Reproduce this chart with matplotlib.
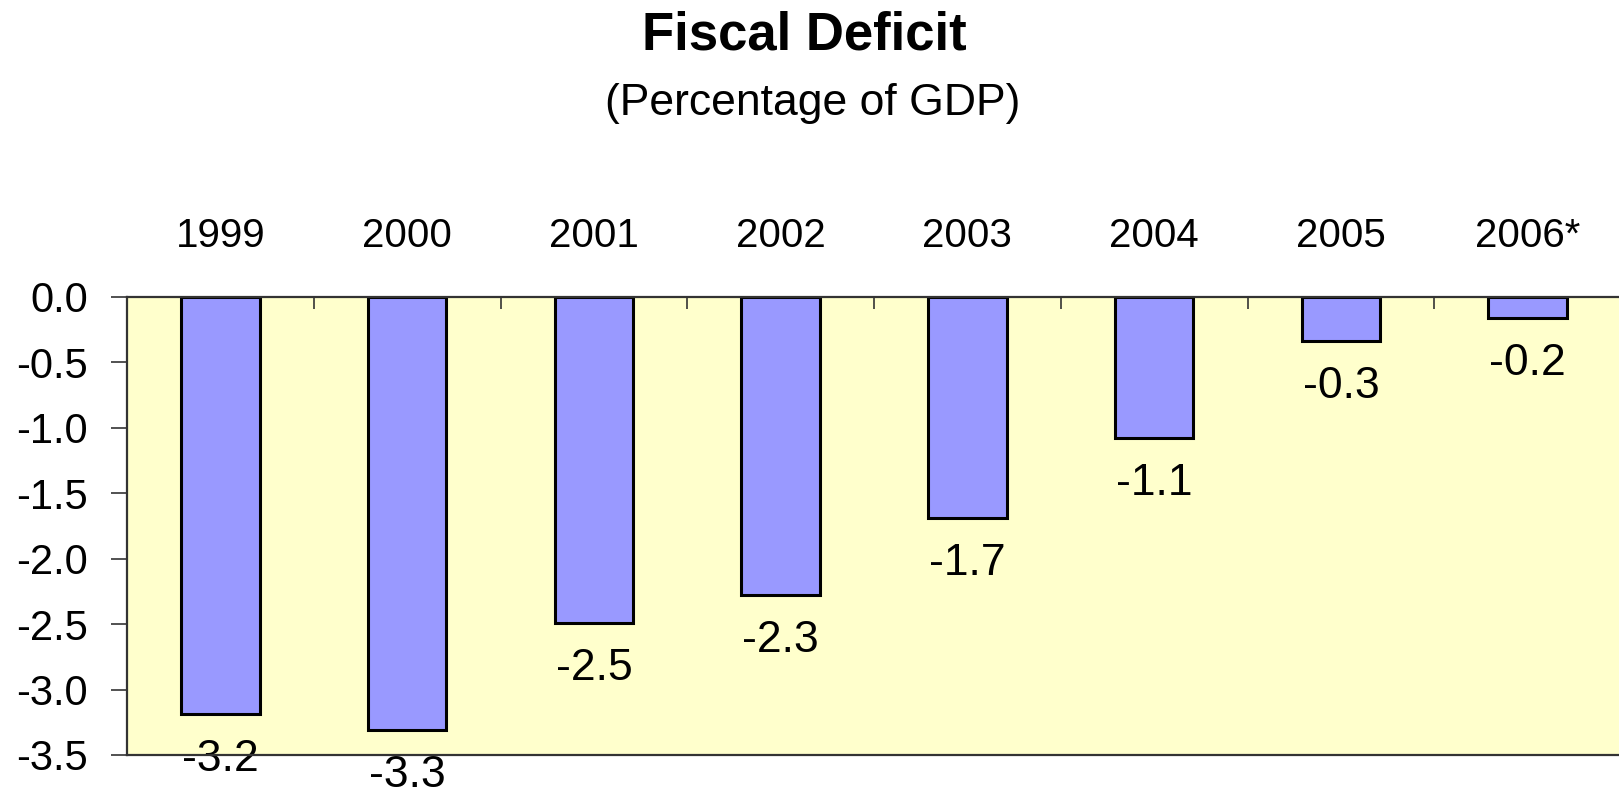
import numpy as np
import matplotlib
matplotlib.use("Agg")
import matplotlib.pyplot as plt

plt.rcParams['font.family'] = ['Liberation Sans', 'DejaVu Sans']
plt.rcParams['axes.unicode_minus'] = False

# Fiscal balance, % of GDP
years = ['1999', '2000', '2001', '2002', '2003', '2004', '2005', '2006*']
deficit = [-3.19, -3.31, -2.49, -2.28, -1.69, -1.08, -0.34, -0.16]
y_ticks = [0.0, -0.5, -1.0, -1.5, -2.0, -2.5, -3.0, -3.5]

W, H = 1619, 788
fig = plt.figure(figsize=(W / 100, H / 100), dpi=100)
ax = fig.add_axes([127 / W, 33 / H, 1494 / W, 458 / H])
ax.set_facecolor('#FFFFCC')

x = np.arange(len(years))
ax.bar(x, deficit, width=0.42, color='#9999FF', edgecolor='black',
       linewidth=2.2, zorder=2)

# value labels sit under the spines, so the bottom axis line runs over them
for xi, v in zip(x, deficit):
    ax.annotate(f'{v:.1f}', xy=(xi, v), xytext=(0, -18), textcoords='offset points',
                ha='center', va='top', fontsize=32, color='black',
                zorder=2.3, annotation_clip=False)

ax.set_xlim(-0.5, len(years) - 0.5)
ax.set_ylim(-3.5, 0)

# categories labelled along the top, ticks between them
ax.xaxis.tick_top()
ax.set_xticks(x)
ax.set_xticklabels(years)
ax.set_xticks(x[:-1] + 0.5, minor=True)
ax.tick_params(axis='x', which='major', length=0, pad=30, labelsize=29)
ax.tick_params(axis='x', which='minor', direction='in', length=8.5,
               width=1.2, color='#333333', top=True, bottom=False)

ax.set_yticks(y_ticks)
ax.set_yticklabels([f'{t:.1f}' for t in y_ticks])
ax.tick_params(axis='y', direction='out', length=11.5, width=1.2,
               color='#333333', pad=16.5, labelsize=30)

for side in ['top', 'left', 'bottom']:
    ax.spines[side].set_color('#333333')
    ax.spines[side].set_linewidth(1.6)
ax.spines['right'].set_visible(False)

fig.text(804 / W, 1 - 36 / H, 'Fiscal Deficit', ha='center', va='center',
         fontsize=38, fontweight='bold')
fig.text(813 / W, 1 - 103 / H, '(Percentage of GDP)', ha='center', va='center',
         fontsize=32)

fig.savefig('out.png', dpi=100, facecolor='white')
